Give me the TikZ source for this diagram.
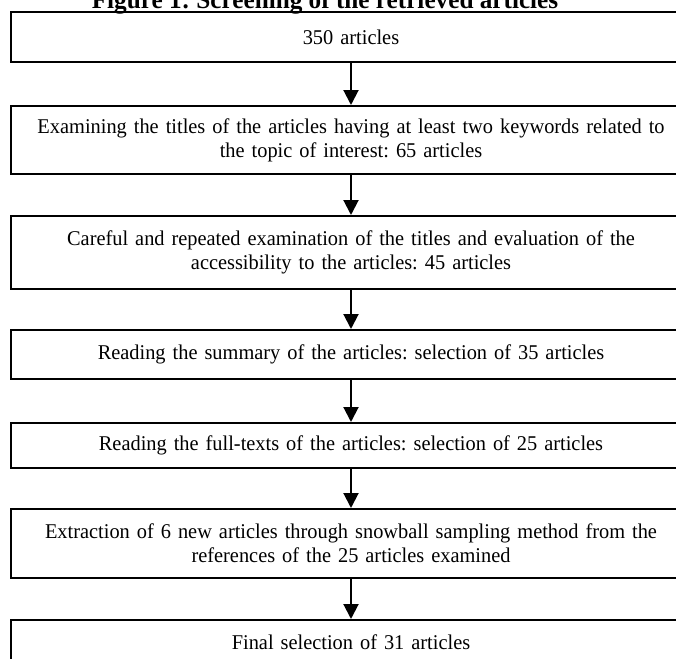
\documentclass[tikz,border=0pt]{standalone}
\usepackage{fontspec}
\setmainfont[FakeStretch=0.97]{Liberation Serif}
\usetikzlibrary{arrows.meta}
\frenchspacing
\begin{document}
\begin{tikzpicture}[x=0.5pt,y=-0.5pt,
  box/.style={draw, line width=1pt, minimum width=340pt, inner sep=0pt,
    text width=330pt, align=center, font=\fontsize{10.5}{12}\selectfont},
  arr/.style={line width=1pt, -{Triangle[width=7.5pt,length=7.5pt]}},
  titlestyle/.style={font=\bfseries\fontsize{13}{15}\selectfont, anchor=base, inner sep=0pt}]
\useasboundingbox (0,0) rectangle (676,659);
\node[titlestyle] (title) at (325,8) {Figure 1: Screening of the retrieved articles};
\node[box, minimum height=25pt] (b1) at (351,37) {350 articles};
\node[box, minimum height=34pt] (b2) at (351,140) {Examining the titles of the articles having at least two keywords related to\\the topic of interest: 65 articles};
\node[box, minimum height=36.5pt] (b3) at (351,252.5) {Careful and repeated examination of the titles and evaluation of the\\accessibility to the articles: 45 articles};
\node[box, minimum height=24.5pt] (b4) at (351,354.5) {Reading the summary of the articles: selection of 35 articles};
\node[box, minimum height=22.5pt] (b5) at (351,445.5) {Reading the full-texts of the articles: selection of 25 articles};
\node[box, minimum height=34.5pt] (b6) at (351,543.5) {Extraction of 6 new articles through snowball sampling method from the\\references of the 25 articles examined};
\node[box, minimum height=22pt] (b7) at (351,642) {Final selection of 31 articles};
\draw[arr] (b1.south) -- (b2.north);
\draw[arr] (b2.south) -- (b3.north);
\draw[arr] (b3.south) -- (b4.north);
\draw[arr] (b4.south) -- (b5.north);
\draw[arr] (b5.south) -- (b6.north);
\draw[arr] (b6.south) -- (b7.north);
\end{tikzpicture}
\end{document}
